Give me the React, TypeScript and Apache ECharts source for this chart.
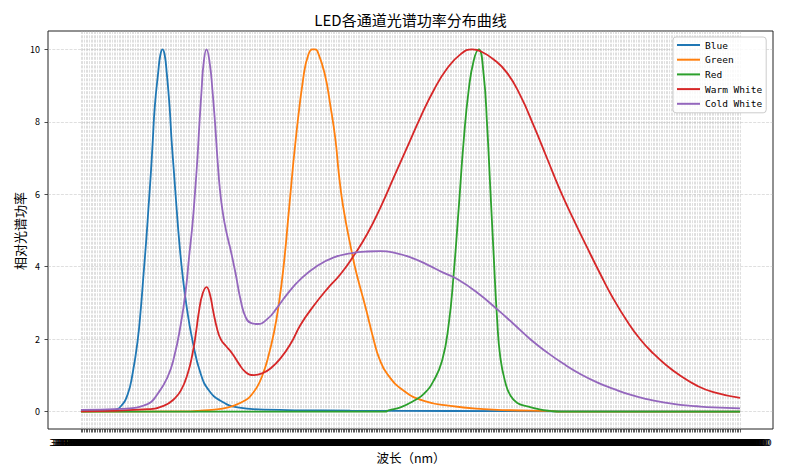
import React, { useEffect, useRef } from 'react';
import * as echarts from 'echarts';

// wavelength ticks on the category axis (matplotlib drew every one of them)
const WAVELENGTHS = Array.from({ length: 401 }, (_, i) => (380 + i).toFixed(7));

const Y_TICKS = [0, 2, 4, 6, 8, 10];

const SERIES_NAMES = ['Blue', 'Green', 'Red', 'Warm White', 'Cold White'];
const SERIES_COLORS = ['#1f77b4', '#ff7f0e', '#2ca02c', '#d62728', '#9467bd'];

// [wavelength nm, relative power]
const BLUE = [
  [380, 0.02], [392, 0.03], [400.2, 0.05], [404.2, 0.15], [408.3, 0.47], [411.3, 1.04],
  [414.4, 1.96], [416.4, 2.88], [418, 3.8], [419.6, 4.72], [421, 5.64], [422.4, 6.57],
  [423.6, 7.49], [424.8, 8.41], [426.8, 9.33], [428.2, 9.85], [429.5, 10], [430.8, 9.85],
  [432.1, 9.33], [433.8, 8.41], [435, 7.49], [436.5, 6.57], [438, 5.64], [439.6, 4.72],
  [441.6, 3.8], [444.2, 2.88], [447.7, 1.96], [452.7, 1.04], [457.8, 0.58], [464.8, 0.3],
  [475, 0.12], [490.9, 0.06], [543.6, 0.03], [604.2, 0.02], [670.9, 0.01], [780, 0],
];

const GREEN = [
  [380, 0], [446.7, 0.01], [452.7, 0.03], [464.8, 0.08], [472.9, 0.17], [481, 0.35],
  [483, 0.44], [487.1, 0.7], [490.1, 1.0], [493.3, 1.45], [497.2, 2.2], [500.2, 3.0],
  [503.2, 4.1], [506.2, 5.55], [510.3, 7.49], [515.3, 9.33], [518, 9.85], [520.4, 10],
  [522, 10], [523.5, 9.95], [527.9, 9.33], [531.5, 8.41], [534.5, 7.49], [536.5, 6.57],
  [539.2, 5.64], [544.6, 4.35], [547.3, 3.8], [552.7, 2.88], [557.8, 1.96], [560.8, 1.5],
  [565.9, 1.04], [575.9, 0.58], [588.1, 0.3], [604.2, 0.16], [624.4, 0.07], [640.6, 0.04],
  [664.8, 0.02], [670.9, 0], [780, 0],
];

const RED = [
  [380, 0], [564.8, 0], [566.7, 0.04], [573.9, 0.12], [582, 0.3], [588.1, 0.49],
  [594.1, 0.86], [599.2, 1.41], [603.2, 2.42], [606.2, 3.8], [609.3, 5.64], [612.3, 7.49],
  [615.3, 8.87], [618.4, 9.7], [621.4, 10], [624.4, 9.3], [626.5, 7.9], [628.5, 6.1],
  [630.5, 4.3], [632.5, 2.6], [634.5, 1.5], [637.6, 0.8], [640.6, 0.45], [644.6, 0.25],
  [650.7, 0.15], [657.6, 0.07], [664.8, 0.02], [670.9, 0], [780, 0],
];

const WARM_WHITE = [
  [380, 0.01], [420.4, 0.07], [430.5, 0.17], [436.5, 0.35], [440.6, 0.58], [444.7, 1.04],
  [447.7, 1.6], [449.7, 2.15], [451.7, 2.79], [453.8, 3.25], [456.2, 3.44], [458.2, 3.25],
  [460.2, 2.79], [462.4, 2.33], [464.8, 2.0], [467.9, 1.82], [471.9, 1.6], [475.9, 1.32],
  [480, 1.09], [485, 1.01], [490.1, 1.06], [495.2, 1.2], [501.2, 1.48], [507.3, 1.88],
  [513.3, 2.4], [521.4, 2.93], [529.5, 3.39], [537.6, 3.8], [545.6, 4.31], [553.8, 4.91],
  [561.8, 5.64], [569.9, 6.47], [578, 7.3], [586.1, 8.13], [594.1, 8.87], [602.2, 9.47],
  [610.3, 9.86], [617.4, 10], [622.4, 9.95], [630.5, 9.72], [638.6, 9.35], [646.7, 8.72],
  [654.7, 7.9], [662.8, 7.0], [670.9, 6.1], [679, 5.3], [687.1, 4.54], [695.2, 3.8],
  [703.2, 3.11], [711.3, 2.51], [719.4, 2.0], [727.5, 1.6], [735.6, 1.27], [743.6, 1.0],
  [753.8, 0.72], [763.8, 0.54], [780, 0.38],
];

const COLD_WHITE = [
  [380, 0.05], [404.2, 0.08], [420.4, 0.21], [426.5, 0.49], [432.5, 0.95], [436.5, 1.5],
  [440.6, 2.42], [443.6, 3.35], [445.6, 4.26], [447.7, 5.18], [449.3, 6.1], [450.7, 7.0],
  [451.9, 7.95], [453.2, 8.87], [454.4, 9.6], [456.2, 10], [458.2, 9.6], [459.8, 8.87],
  [461.4, 7.95], [462.8, 7.0], [464.4, 6.1], [466.2, 5.46], [468.5, 4.91], [470.9, 4.45],
  [473.9, 3.8], [477, 3.06], [480, 2.6], [483, 2.45], [487.1, 2.42], [493.2, 2.56],
  [499.2, 2.88], [505.3, 3.25], [513.3, 3.66], [523.5, 4.03], [533.5, 4.26], [543.6, 4.37],
  [553.8, 4.42], [561.8, 4.43], [569.9, 4.39], [580, 4.26], [590.1, 4.06], [600.2, 3.83],
  [608.3, 3.66], [620.4, 3.29], [632.5, 2.83], [642.6, 2.42], [652.7, 2.0], [662.8, 1.64],
  [672.9, 1.32], [683, 1.04], [693.2, 0.81], [703.2, 0.63], [713.3, 0.47], [723.5, 0.35],
  [733.5, 0.26], [743.6, 0.19], [753.8, 0.15], [763.8, 0.12], [780, 0.09],
];

const SERIES_DATA = [BLUE, GREEN, RED, WARM_WHITE, COLD_WHITE];

const CJK = '"Noto Sans CJK SC", sans-serif';
const GRID_COLOR = 'rgba(176,176,176,0.5)';

const App: React.FC = () => {
  const chartRef = useRef<HTMLDivElement>(null);

  useEffect(() => {
    if (!chartRef.current) return;
    const chart = echarts.init(chartRef.current, null, { renderer: 'svg' });

    const option = {
      animation: false,
      grid: [
        // axes frame
        { left: 48, right: 20, top: 31, bottom: 47, show: true, borderColor: '#222', borderWidth: 1, backgroundColor: 'transparent' },
        // data area (0..10)
        { left: 48, right: 20, top: 49.3, bottom: 64.3 },
        // category ticks (first..last wavelength)
        { left: 80.9, right: 52.9, top: 31, bottom: 47 },
      ],
      xAxis: [
        { gridIndex: 0, type: 'value', show: false, min: 0, max: 1 },
        { gridIndex: 1, type: 'value', show: false, min: 360, max: 800 },
        {
          gridIndex: 2,
          type: 'category',
          data: WAVELENGTHS,
          boundaryGap: false,
          axisLine: { show: false },
          axisTick: { show: true, interval: 0, length: 3.5, lineStyle: { color: '#333', width: 0.8 } },
          axisLabel: { interval: 0, margin: 8, fontSize: 9.5, color: '#000', fontFamily: 'DejaVu Sans' },
          splitLine: { show: true, interval: 0, lineStyle: { color: GRID_COLOR, width: 0.8, type: [3, 1.3] } },
        },
      ],
      yAxis: [
        { gridIndex: 0, type: 'value', show: false, min: 0, max: 1 },
        {
          gridIndex: 1,
          type: 'value',
          min: Y_TICKS[0],
          max: Y_TICKS[Y_TICKS.length - 1],
          interval: 2,
          axisLine: { show: false },
          axisTick: { show: true, length: 3.5, lineStyle: { color: '#222', width: 0.8 } },
          axisLabel: { margin: 8, fontSize: 9, color: '#000', fontFamily: CJK },
          splitLine: { show: true, lineStyle: { color: GRID_COLOR, width: 0.8, type: [3, 1.3] } },
        },
        { gridIndex: 2, type: 'value', show: false, min: 0, max: 1 },
      ],
      legend: {
        orient: 'vertical',
        left: 673,
        top: 37,
        padding: [2, 4, 3, 4],
        itemGap: 2.7,
        itemWidth: 23,
        itemHeight: 2,
        icon: 'rect',
        backgroundColor: 'rgba(255,255,255,0.85)',
        borderColor: '#ccc',
        borderWidth: 1,
        borderRadius: 3,
        textStyle: { fontSize: 9.5, lineHeight: 12, color: '#000', fontFamily: 'DejaVu Sans Mono' },
        data: SERIES_NAMES,
      },
      graphic: [
        {
          type: 'text', x: 410.5, y: 19,
          style: { text: 'LED各通道光谱功率分布曲线', fontSize: 15, fontFamily: CJK, fill: '#000', align: 'center', verticalAlign: 'middle' },
        },
        {
          type: 'text', x: 411, y: 457.5,
          style: { text: '波长（nm）', fontSize: 12.5, fontFamily: CJK, fill: '#000', align: 'center', verticalAlign: 'middle' },
        },
        {
          type: 'text', x: 19, y: 231, rotation: Math.PI / 2,
          style: { text: '相对光谱功率', fontSize: 13, fontFamily: CJK, fill: '#000', align: 'center', verticalAlign: 'middle' },
        },
      ],
      series: SERIES_NAMES.map((name, i) => ({
        name,
        type: 'line',
        xAxisIndex: 1,
        yAxisIndex: 1,
        data: SERIES_DATA[i],
        smooth: 0.5,
        symbol: 'none',
        showSymbol: false,
        clip: false,
        color: SERIES_COLORS[i],
        lineStyle: { color: SERIES_COLORS[i], width: 1.8 },
      })),
    };

    chart.setOption(option);
    return () => chart.dispose();
  }, []);

  return (
    <div
      ref={chartRef}
      style={{ position: 'fixed', left: 0, top: 0, width: 793, height: 476, background: '#fff' }}
    />
  );
};

export default App;
